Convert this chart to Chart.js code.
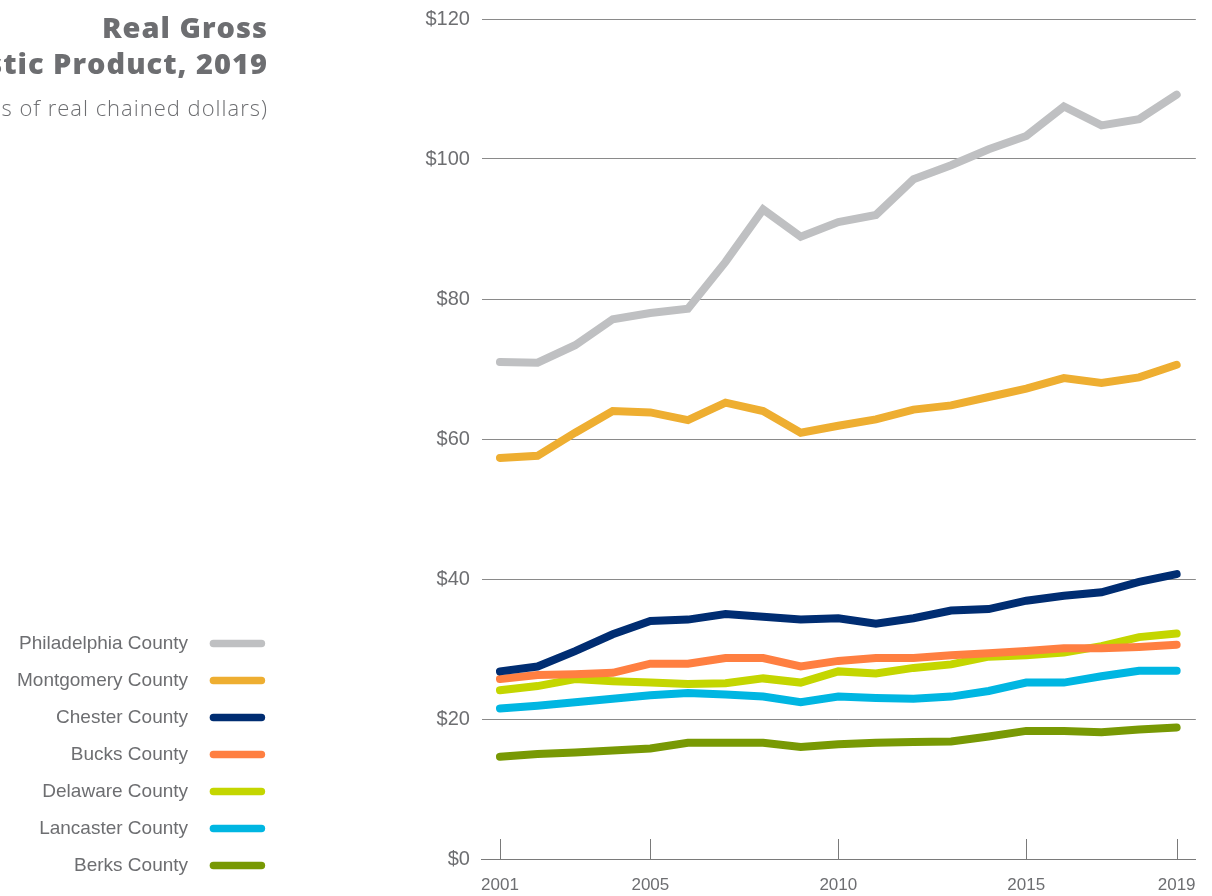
<!DOCTYPE html>
<html>
<head>
<meta charset="utf-8">
<script src="https://cdn.jsdelivr.net/npm/chart.js@4"></script>
<style>
  html, body { margin: 0; padding: 0; background: #fff; overflow: hidden; }
  #wrap { position: relative; width: 1212px; height: 896px; }
  #c { position: absolute; left: 0; top: 0; }
  #title { position: absolute; right: 944px; top: 9px; white-space: nowrap; text-align: right;
           font-family: "Open Sans", Lato, sans-serif; font-weight: 800; font-size: 29px; line-height: 36px;
           letter-spacing: 1px; color: #6d6e71; }
  #sub { position: absolute; right: 944px; top: 94px; white-space: nowrap; text-align: right;
         font-family: "Open Sans", Lato, sans-serif; font-weight: 300; font-size: 22px; line-height: 26px;
         letter-spacing: 1px; color: #6d6e71; }
</style>
</head>
<body>
<div id="wrap">
  <canvas id="c" width="1212" height="896"></canvas>
  <div id="title">Real Gross<br>Domestic Product, 2019</div>
  <div id="sub">(Billions of real chained dollars)</div>
</div>
<script>
const years = [2001,2002,2003,2004,2005,2006,2007,2008,2009,2010,2011,2012,2013,2014,2015,2016,2017,2018,2019];
const xTickYears = [2001, 2005, 2010, 2015, 2019];
const yTicks = [0, 20, 40, 60, 80, 100, 120];
const seriesNames = ["Philadelphia County","Montgomery County","Chester County","Bucks County","Delaware County","Lancaster County","Berks County"];
const philadelphia = [71.0,70.9,73.4,77.1,78.0,78.6,85.3,92.8,88.9,91.0,92.0,97.1,99.1,101.4,103.3,107.5,104.8,105.7,109.2];
const montgomery   = [57.3,57.6,60.9,64.0,63.8,62.7,65.2,64.0,60.9,61.9,62.8,64.2,64.8,66.0,67.2,68.7,68.0,68.8,70.6];
const chester      = [26.8,27.5,29.7,32.1,34.0,34.2,35.0,34.6,34.2,34.4,33.6,34.4,35.5,35.7,36.9,37.6,38.1,39.6,40.7];
const bucks        = [25.7,26.3,26.4,26.6,27.9,27.9,28.7,28.7,27.5,28.3,28.7,28.7,29.1,29.4,29.7,30.1,30.1,30.3,30.6];
const delaware     = [24.1,24.7,25.7,25.4,25.2,25.0,25.1,25.8,25.2,26.8,26.5,27.3,27.8,28.9,29.1,29.5,30.4,31.7,32.2];
const lancaster    = [21.5,21.9,22.4,22.9,23.4,23.7,23.5,23.2,22.4,23.2,23.0,22.9,23.2,24.0,25.2,25.2,26.1,26.9,26.9];
const berks        = [14.6,15.0,15.2,15.5,15.8,16.6,16.6,16.6,16.0,16.4,16.6,16.7,16.8,17.5,18.3,18.3,18.1,18.5,18.8];
const seriesValues = [philadelphia, montgomery, chester, bucks, delaware, lancaster, berks];
const seriesColors = ["#bfc0c2","#eeae31","#002d72","#ff7f41","#c4d600","#00b6e2","#789904"];

const datasets = seriesNames.map((name, i) => ({
  label: name,
  data: years.map((y, j) => ({x: y, y: seriesValues[i][j]})),
  borderColor: seriesColors[i],
  backgroundColor: seriesColors[i],
  borderWidth: 8,
  borderCapStyle: 'round',
  borderJoinStyle: 'miter',
  pointRadius: 0,
  pointHoverRadius: 0,
  tension: 0
}));

const upTicks = {
  id: 'upTicks',
  afterDraw(chart) {
    const xs = chart.scales.x, ctx = chart.ctx;
    ctx.save();
    ctx.strokeStyle = '#7a7a7a';
    ctx.lineWidth = 1;
    xTickYears.forEach(v => {
      const px = Math.round(xs.getPixelForValue(v)) + 0.5;
      ctx.beginPath();
      ctx.moveTo(px, xs.top);
      ctx.lineTo(px, xs.top - 20);
      ctx.stroke();
    });
    ctx.restore();
  }
};

const NBSP = '\u00a0\u00a0\u00a0';

new Chart(document.getElementById('c'), {
  type: 'line',
  data: { datasets },
  options: {
    responsive: false,
    animation: false,
    devicePixelRatio: 1,
    layout: { padding: { top: 1, right: 16, bottom: 3, left: 7 } },
    plugins: {
      tooltip: { enabled: false },
      legend: {
        position: 'left',
        align: 'end',
        rtl: true,
        textDirection: 'ltr',
        labels: {
          usePointStyle: true,
          pointStyle: 'line',
          pointStyleWidth: 48,
          boxHeight: 7,
          padding: 18,
          color: '#6d6e71',
          font: { family: '"Liberation Sans", Arial, sans-serif', size: 19 },
          generateLabels(chart) {
            return chart.data.datasets.map((d, i) => ({
              text: d.label + NBSP, fillStyle: d.borderColor, strokeStyle: d.borderColor,
              lineWidth: 7.5, lineCap: 'round', pointStyle: 'line', datasetIndex: i, fontColor: '#6d6e71'
            }));
          }
        }
      }
    },
    scales: {
      x: {
        type: 'linear',
        min: 2000.52,
        max: 2019.51,
        afterBuildTicks(scale) { scale.ticks = xTickYears.map(v => ({ value: v })); },
        afterFit(scale) { scale.height = 34; },
        grid: { display: false, drawTicks: false },
        border: { display: true, color: '#7a7a7a', width: 1 },
        ticks: {
          padding: 16,
          color: '#6d6e71',
          maxRotation: 0,
          autoSkip: false,
          font: { family: '"Liberation Sans", sans-serif', size: 17 },
          callback: v => String(v)
        }
      },
      y: {
        min: 0, max: 120,
        afterBuildTicks(scale) { scale.ticks = yTicks.map(v => ({ value: v })); },
        afterFit(scale) { scale.width = 202.5; },
        grid: { color: '#8a8a8a', lineWidth: 1, drawTicks: false },
        border: { display: false },
        ticks: {
          padding: 12,
          color: '#6d6e71',
          font: { family: '"Liberation Sans", sans-serif', size: 20, lineHeight: 0.7 },
          callback: v => '$' + v
        }
      }
    }
  },
  plugins: [upTicks]
});
</script>
</body>
</html>
